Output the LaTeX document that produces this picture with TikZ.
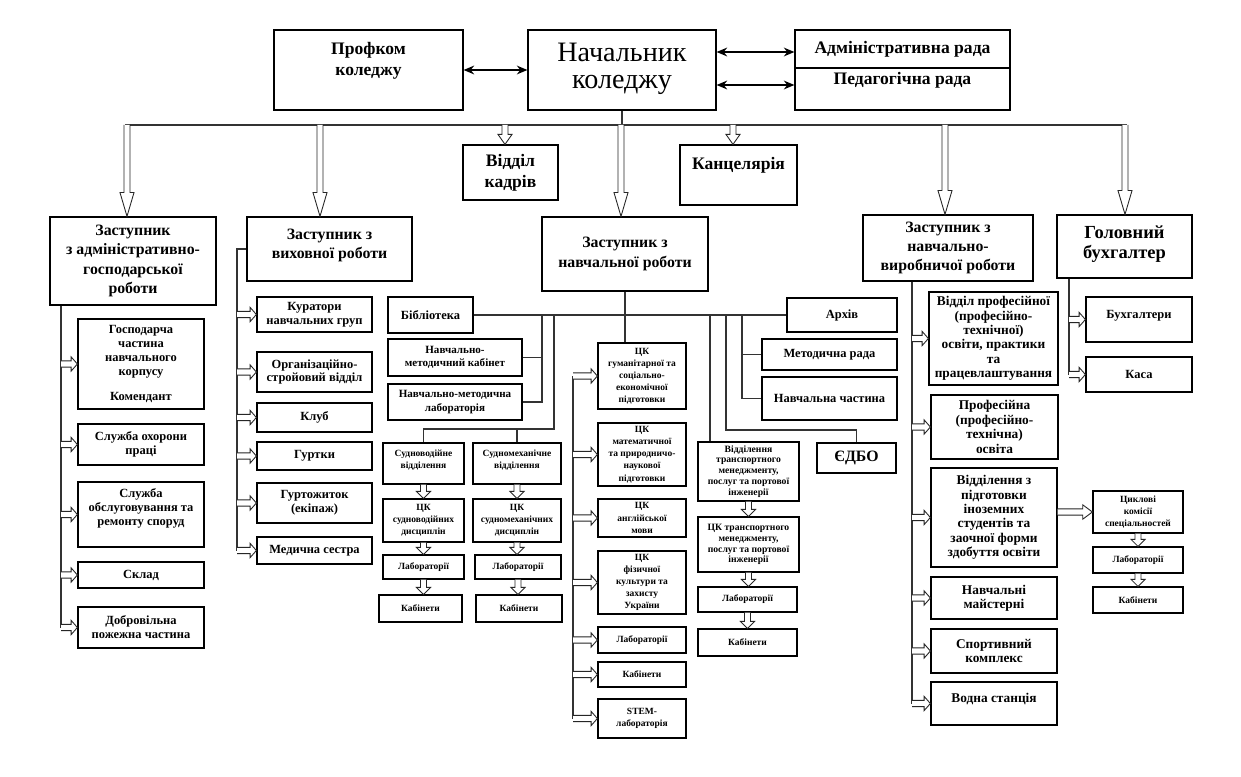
\documentclass[tikz,border=0pt]{standalone}
\usepackage{fontspec}
\setmainfont{Liberation Serif}
\usetikzlibrary{arrows.meta,calc}
\newcommand\fA{\fontsize{9}{11}\selectfont}
\newcommand\fT{\fontsize{10}{12}\selectfont}
\newcommand\fH{\fontsize{16}{15.5}\selectfont}
\newcommand\fB{\fontsize{7.1}{7.9}\selectfont}
\newcommand\fD{\fontsize{6.3}{7.6}\selectfont}
\newcommand\fC{\fontsize{5.4}{6.9}\selectfont}
\newcommand\fCt{\fontsize{5.5}{6.2}\selectfont}
\newcommand\fE{\fontsize{7.6}{8.2}\selectfont}
\newcommand\up[2]{\raisebox{#1}[0pt][0pt]{\begin{tabular}{@{}c@{}}#2\end{tabular}}}
\newcommand\bx[7][]{\node[box,minimum width={(#5-#3)*0.02cm},minimum height={(#6-#4)*0.02cm},#1] (#2) at ({(#3+#5)/2},{(#4+#6)/2}) {#7};}
\newcommand\arrD[3]{\draw[hol] let \p1=#1, \p2=#2 in (\x1-1.7pt,\y1) -- (\x1-1.7pt,\y2+#3) -- (\x1-4pt,\y2+#3) -- (\x1,\y2) -- (\x1+4pt,\y2+#3) -- (\x1+1.7pt,\y2+#3) -- (\x1+1.7pt,\y1);}
\newcommand\arrR[3]{\draw[hol] let \p1=#1, \p2=#2 in (\x1,\y2+1.8pt) -- (\x2-#3,\y2+1.8pt) -- (\x2-#3,\y2+4.1pt) -- (\x2,\y2) -- (\x2-#3,\y2-4.1pt) -- (\x2-#3,\y2-1.8pt) -- (\x1,\y2-1.8pt);}
\begin{document}
\begin{tikzpicture}[x=0.02cm,y=-0.02cm,
  box/.style={draw,line width=0.7pt,align=center,inner sep=0pt,font=\bfseries\fB},
  ln/.style={line width=0.6pt,draw=black!80},
  hol/.style={line width=0.5pt,fill=white,draw=black!85},
  dar/.style={line width=0.8pt,{Stealth[length=6pt,width=5pt]}-{Stealth[length=6pt,width=5pt]}}]
\path[fill=white,use as bounding box] (0,0) rectangle (1241,777);

% top
\bx[font=\bfseries\fT]{prof}{274}{30}{463}{110}{\up{2.8pt}{Профком\\коледжу}}
\bx[font=\fH]{head}{528}{30}{716}{110}{\up{-4pt}{Начальник\\коледжу}}
\bx[font=\bfseries\fT]{adm}{795}{30}{1010}{68}{Адміністративна рада}
\bx[font=\bfseries\fT]{ped}{795}{68}{1010}{110}{\up{2.2pt}{Педагогічна рада}}
\bx[font=\bfseries\fT]{kadry}{463}{145}{558}{200}{Відділ\\кадрів}
\bx[font=\bfseries\fT]{kanc}{680}{145}{797}{205}{\up{2.8pt}{Канцелярія}}

% column 1
\bx[font=\bfseries\fA]{zagr}{50}{217}{216}{305}{Заступник\\з адміністративно-\\господарської\\роботи}
\bx{gosp}{78}{319}{204}{409}{Господарча\\частина\\навчального\\корпусу\\[6pt]Комендант}
\bx{ohor}{78}{424}{204}{465}{Служба охорони\\праці}
\bx{obsl}{78}{482}{204}{547}{\up{1.5pt}{Служба\\обслуговування та\\ремонту споруд}}
\bx{sklad}{78}{562}{204}{588}{Склад}
\bx{dpch}{78}{607}{204}{648}{Добровільна\\пожежна частина}

% column 2
\bx[font=\bfseries\fA]{zvr}{247}{217}{412}{281}{\up{0pt}{Заступник з\\виховної роботи}}
\bx{kur}{257}{297}{372}{332}{Куратори\\навчальних груп}
\bx{org}{257}{352}{372}{392}{Організаційно-\\стройовий відділ}
\bx{klub}{257}{403}{372}{432}{Клуб}
\bx{gurt}{257}{442}{372}{470}{Гуртки}
\bx{gurtoj}{257}{483}{372}{523}{Гуртожиток\\(екіпаж)}
\bx{med}{257}{537}{372}{564}{Медична сестра}

% column 3
\bx[font=\bfseries\fA]{znr}{542}{217}{708}{291}{Заступник з\\навчальної роботи}
\bx{lib}{388}{297}{473}{333}{Бібліотека}
\bx[font=\bfseries\fD]{nmk}{388}{339}{522}{376}{Навчально-\\методичний кабінет}
\bx[font=\bfseries\fD]{nml}{388}{384}{522}{420}{Навчально-методична\\лабораторія}
\bx[font=\bfseries\fC]{sv}{383}{443}{464}{484}{\up{0.8pt}{Судноводійне\\відділення}}
\bx[font=\bfseries\fC]{sm}{473}{443}{561}{484}{\up{0.8pt}{Судномеханічне\\відділення}}
\bx[font=\bfseries\fC]{cksv}{383}{499}{464}{542}{ЦК\\судноводійних\\дисциплін}
\bx[font=\bfseries\fC]{cksm}{473}{499}{561}{542}{ЦК\\судномеханічних\\дисциплін}
\bx[font=\bfseries\fC]{labsv}{383}{555}{464}{579}{Лабораторії}
\bx[font=\bfseries\fC]{labsm}{475}{555}{561}{579}{Лабораторії}
\bx[font=\bfseries\fC]{kabsv}{379}{595}{462}{622}{Кабінети}
\bx[font=\bfseries\fC]{kabsm}{476}{595}{562}{622}{Кабінети}

% CK column
\bx[font=\bfseries\fC]{ckg}{598}{343}{686}{409}{ЦК\\гуманітарної та\\соціально-\\економічної\\підготовки}
\bx[font=\bfseries\fC]{ckm}{598}{423}{686}{486}{ЦК\\математичної\\та природничо-\\наукової\\підготовки}
\bx[font=\bfseries\fC]{cka}{598}{499}{686}{537}{ЦК\\англійської\\мови}
\bx[font=\bfseries\fC]{ckf}{598}{551}{686}{614}{ЦК\\фізичної\\культури та\\захисту\\України}
\bx[font=\bfseries\fC]{labc}{598}{627}{686}{653}{Лабораторії}
\bx[font=\bfseries\fC]{kabc}{598}{662}{686}{687}{Кабінети}
\bx[font=\bfseries\fC]{stem}{598}{699}{686}{738}{STEM-\\лабораторія}

% right-middle
\bx{arch}{787}{298}{897}{332}{Архів}
\bx{mr}{762}{339}{897}{370}{Методична рада}
\bx{nch}{762}{377}{897}{420}{Навчальна частина}
\bx[font=\bfseries\fCt]{tr}{698}{442}{799}{501}{Відділення\\транспортного\\менеджменту,\\послуг та портової\\інженерії}
\bx[font=\bfseries\fCt]{cktr}{698}{517}{799}{572}{ЦК транспортного\\менеджменту,\\послуг та портової\\інженерії}
\bx[font=\bfseries\fC]{labtr}{698}{587}{797}{612}{Лабораторії}
\bx[font=\bfseries\fC]{kabtr}{698}{629}{797}{656}{Кабінети}
\bx[font=\bfseries\fontsize{9}{10}\selectfont]{edbo}{817}{443}{896}{473}{ЄДБО}

% right
\bx[font=\bfseries\fA]{znvr}{863}{215}{1033}{281}{Заступник з\\навчально-\\виробничої роботи}
\bx[font=\bfseries\fontsize{10.5}{11.5}\selectfont]{gb}{1057}{215}{1192}{278}{\up{-1.5pt}{Головний\\бухгалтер}}
\bx[font=\bfseries\fE]{vpo}{929}{292}{1058}{385}{Відділ професійної\\(професійно-\\технічної)\\освіти, практики\\та\\працевлаштування}
\bx[font=\bfseries\fE]{pto}{931}{395}{1058}{459}{Професійна\\(професійно-\\технічна)\\освіта}
\bx[font=\bfseries\fE]{vzi}{931}{468}{1057}{567}{Відділення з\\підготовки\\іноземних\\студентів та\\заочної форми\\здобуття освіти}
\bx[font=\bfseries\fE]{nm}{931}{577}{1057}{619}{Навчальні\\майстерні}
\bx[font=\bfseries\fE]{sk}{931}{629}{1057}{673}{Спортивний\\комплекс}
\bx[font=\bfseries\fE]{vod}{931}{682}{1057}{725}{\up{0.3pt}{Водна станція}}
\bx{buhg}{1086}{297}{1192}{342}{\up{0.3pt}{Бухгалтери}}
\bx{kasa}{1086}{357}{1192}{392}{Каса}
\bx[font=\bfseries\fC]{cks}{1093}{491}{1183}{533}{Циклові\\комісії\\спеціальностей}
\bx[font=\bfseries\fC]{labr}{1093}{547}{1183}{573}{Лабораторії}
\bx[font=\bfseries\fC]{kabr}{1093}{587}{1183}{613}{Кабінети}

% top connectors
\coordinate (a1) at (0,52);
\coordinate (a2) at (0,85);
\draw[dar] (prof.east) -- (head.west);
\draw[dar] (head.east |- a1) -- (adm.west |- a1);
\draw[dar] (head.east |- a2) -- (ped.west |- a2);

% bus
\coordinate (busL) at (125,125);
\coordinate (busR) at (1127,125);
\draw[ln] (busL) -- (busR);
\draw[ln] (head.south) -- (head.south |- busL);
\coordinate (b1) at (127,125);
\coordinate (b2) at (320,125);
\coordinate (b3) at (505,125);
\coordinate (b4) at (621,125);
\coordinate (b5) at (733,125);
\coordinate (b6) at (945,125);
\coordinate (b7) at (1125,125);
\arrD{(b1)}{(b1 |- zagr.north)}{13.6pt}
\arrD{(b2)}{(b2 |- zvr.north)}{13.6pt}
\arrD{(b3)}{(b3 |- kadry.north)}{5.7pt}
\arrD{(b4)}{(b4 |- znr.north)}{13.6pt}
\arrD{(b5)}{(b5 |- kanc.north)}{5.7pt}
\arrD{(b6)}{(b6 |- znvr.north)}{13.6pt}
\arrD{(b7)}{(b7 |- gb.north)}{13.6pt}

% trunks
\coordinate (t1) at (61,0);
\coordinate (t2) at (237,0);
\coordinate (t3) at (573,0);
\coordinate (t4) at (912,0);
\coordinate (t5) at (1069,0);
\draw[ln] (zagr.south -| t1) -- (dpch.west -| t1);
\draw[ln] (zvr.west) -- (zvr.west -| t2) -- (med.west -| t2);
\draw[ln] (ckg.west -| t3) -- (stem.west -| t3);
\draw[ln] (znvr.south -| t4) -- (vod.west -| t4);
\draw[ln] (gb.south -| t5) -- (kasa.west -| t5);

\foreach \q in {gosp,ohor,obsl,sklad,dpch}{\arrR{(t1)}{(\q.west)}{3.6pt}}
\foreach \q in {kur,org,klub,gurt,gurtoj,med}{\arrR{(t2)}{(\q.west)}{3.6pt}}
\foreach \q in {ckg,ckm,cka,ckf,labc,kabc,stem}{\arrR{(t3)}{(\q.west)}{3.6pt}}
\foreach \q in {vpo,pto,vzi,nm,sk,vod}{\arrR{(t4)}{(\q.west)}{3.6pt}}
\foreach \q in {buhg,kasa}{\arrR{(t5)}{(\q.west)}{3.6pt}}
\arrR{(vzi.east)}{(cks.west)}{5.5pt}

% middle network
\coordinate (j1) at (542,0);
\coordinate (j2) at (554,0);
\coordinate (j3) at (710,0);
\coordinate (j4) at (726,0);
\coordinate (j5) at (742,0);
\coordinate (k2) at (554,429);
\coordinate (k4) at (726,430);
\draw[ln] (lib.east) -- (arch.west);
\draw[ln] (znr.south) -- (znr.south |- ckg.north);
\draw[ln] (j1 |- lib.east) -- (j1 |- nml.east) -- (nml.east);
\draw[ln] (nmk.east) -- (nmk.east -| j1);
\draw[ln] (j2 |- lib.east) -- (k2) -| (sv.north);
\draw[ln] (sm.north) -- (sm.north |- k2);
\draw[ln] (j3 |- lib.east) -- (j3 |- tr.north);
\draw[ln] (j4 |- lib.east) -- (k4) -| (edbo.north);
\draw[ln] (j5 |- lib.east) |- (nch.west);
\draw[ln] (mr.west) -- (mr.west -| j5);

% vertical chains
\arrD{(sv.south)}{(sv.south |- cksv.north)}{4pt}
\arrD{(cksv.south)}{(cksv.south |- labsv.north)}{4pt}
\arrD{(labsv.south)}{(labsv.south |- kabsv.north)}{4pt}
\arrD{(sm.south)}{(sm.south |- cksm.north)}{4pt}
\arrD{(cksm.south)}{(cksm.south |- labsm.north)}{4pt}
\arrD{(labsm.south)}{(labsm.south |- kabsm.north)}{4pt}
\arrD{(tr.south)}{(tr.south |- cktr.north)}{4pt}
\arrD{(cktr.south)}{(cktr.south |- labtr.north)}{4pt}
\arrD{(labtr.south)}{(labtr.south |- kabtr.north)}{4pt}
\arrD{(cks.south)}{(cks.south |- labr.north)}{4pt}
\arrD{(labr.south)}{(labr.south |- kabr.north)}{4pt}
\end{tikzpicture}
\end{document}
